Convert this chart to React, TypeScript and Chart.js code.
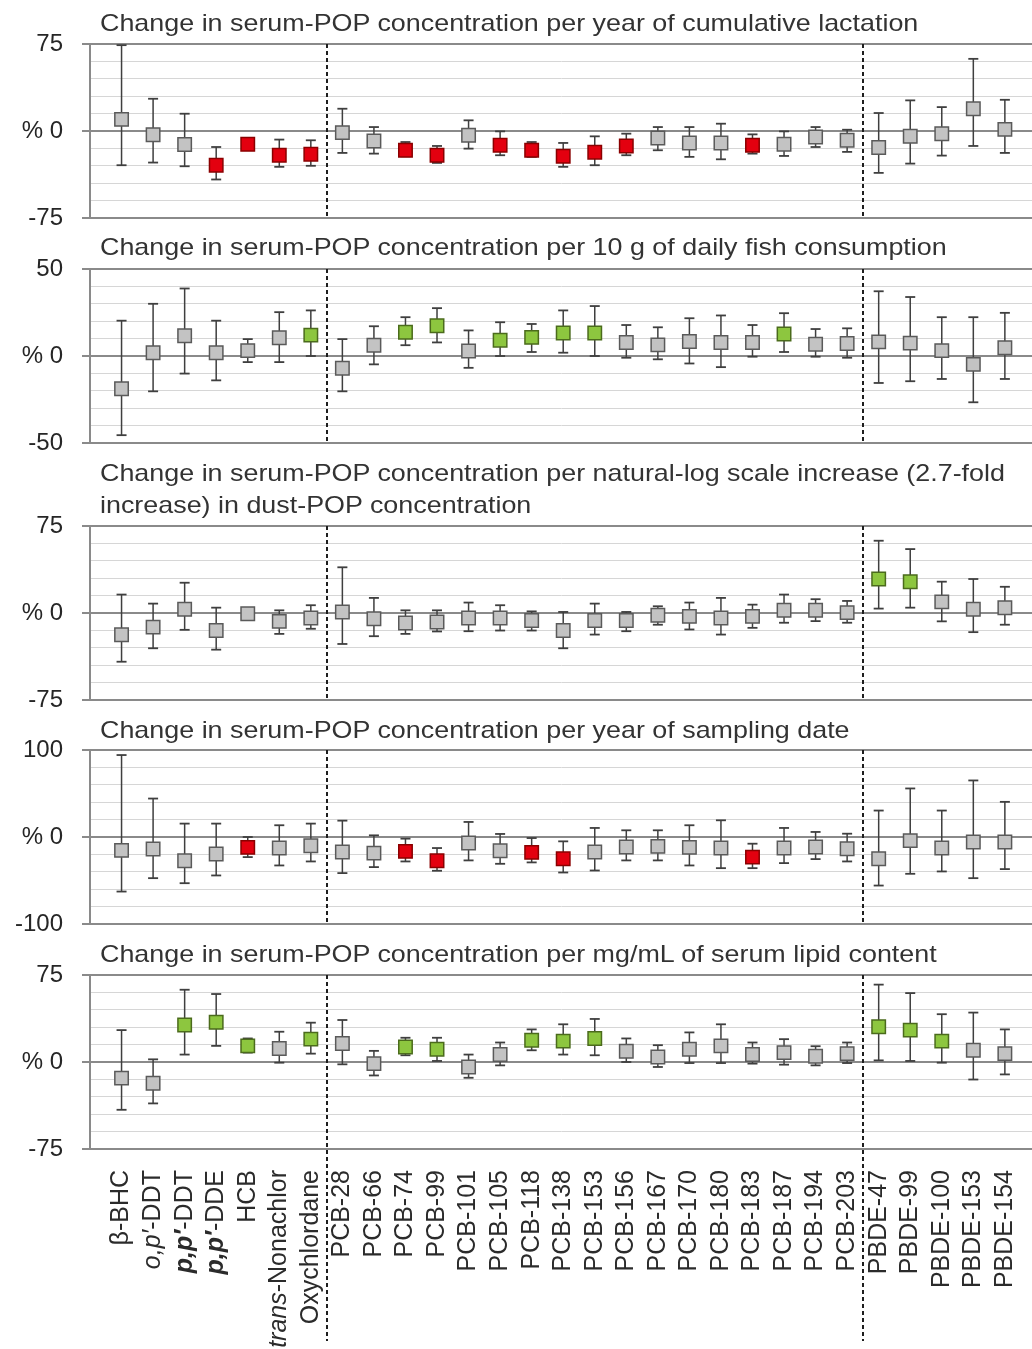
import React, { useEffect, useRef } from 'react';
import { Chart, registerables } from 'chart.js';

Chart.register(...registerables);

const FONT = '"Liberation Sans", Arial, Helvetica, sans-serif';

// ---------- categories & groups ----------
const categories = [
  'β-BHC', 'o,p′-DDT', 'p,p′-DDT', 'p,p′-DDE', 'HCB', 'trans-Nonachlor', 'Oxychlordane',
  'PCB-28', 'PCB-66', 'PCB-74', 'PCB-99', 'PCB-101', 'PCB-105', 'PCB-118', 'PCB-138',
  'PCB-153', 'PCB-156', 'PCB-167', 'PCB-170', 'PCB-180', 'PCB-183', 'PCB-187', 'PCB-194',
  'PCB-203', 'PBDE-47', 'PBDE-99', 'PBDE-100', 'PBDE-153', 'PBDE-154',
];
const groupBreaks = [7.5, 24.5];

// ---------- panel titles ----------
const titleLactation = ['Change in serum-POP concentration per year of cumulative lactation'];
const titleFish = ['Change in serum-POP concentration per 10 g of daily fish consumption'];
const titleDust = [
  'Change in serum-POP concentration per natural-log scale increase (2.7-fold',
  'increase) in dust-POP concentration',
];
const titleDate = ['Change in serum-POP concentration per year of sampling date'];
const titleLipid = ['Change in serum-POP concentration per mg/mL of serum lipid content'];

// ---------- panel 1: cumulative lactation ----------
const lactEst = [10.0, -3.2, -11.7, -29.5, -11.5, -20.9, -20.0, -1.4, -8.6, -16.6, -20.9, -3.7, -12.3, -16.6, -21.8, -18.3, -12.9, -6.0, -10.3, -10.3, -12.3, -11.5, -5.2, -8.0, -14.3, -4.6, -2.3, 19.2, 1.4];
const lactLo = [-29.5, -27.2, -30.4, -41.8, -15, -30.9, -30, -18.9, -19.5, -21.8, -27.5, -15.2, -20.9, -22.3, -30.9, -29.5, -20.9, -16.6, -22.3, -24.4, -19.5, -21.5, -13.8, -18, -36.1, -28.1, -21.2, -12.9, -18.9];
const lactHi = [74, 27.8, 14.9, -13.8, -8, -7.4, -8, 19.2, 3.4, -9.5, -12.9, 9.2, -0.3, -9.5, -10.3, -4.6, -2.3, 3.4, 3.4, 6.3, -2.9, -0.3, 3.4, 1.1, 15.5, 26.4, 20.6, 62.2, 26.9];
const lactSig = 'nnnddddnnddndddddnnndnnnnnnnn'.split('');

// ---------- panel 2: fish consumption ----------
const fishEst = [-18.8, 1.9, 11.6, 1.9, 3.1, 10.5, 12.0, -7.0, 6.2, 13.6, 17.4, 2.9, 9.1, 10.7, 13.2, 13.2, 7.8, 6.4, 8.3, 7.8, 7.8, 12.6, 6.8, 7.2, 8.1, 7.4, 3.1, -4.8, 4.7];
const fishLo = [-45.5, -20.3, -10.1, -14, -3.5, -3.5, 0, -20.3, -4.8, 6.2, 7.8, -6.8, 0, 2.3, 1.9, 0, -1, -1.9, -4.3, -6.4, -0.4, 2.3, -0.4, -1, -15.5, -14.5, -13.2, -26.6, -13.2];
const fishHi = [20.3, 30, 38.8, 20.3, 9.7, 25.2, 26.2, 9.7, 17.1, 22.3, 27.5, 14.7, 19.4, 18.4, 26.2, 28.7, 17.8, 16.5, 21.7, 23.3, 17.8, 24.6, 15.5, 15.9, 37.2, 33.9, 22.3, 22.3, 24.8];
const fishSig = 'nnnnnnunnuunuuuunnnnnunnnnnnn'.split('');

// ---------- panel 3: dust concentration ----------
const dustEst = [-18.8, -12.2, 3.2, -15.1, -0.6, -7.2, -4.3, 0.9, -4.9, -8.7, -7.8, -4.3, -4.3, -6.4, -15.1, -6.4, -6.4, -2.0, -2.9, -4.3, -2.9, 2.3, 2.3, 0.3, 29.3, 27.0, 9.6, 3.2, 4.6];
const dustLo = [-42, -30.4, -14.5, -31.6, -4.9, -18, -13.6, -26.7, -20, -18, -15.9, -15.7, -15.1, -15.1, -30.4, -18.6, -15.7, -10.1, -14.2, -18.6, -12.8, -8.4, -7, -8.4, 3.8, 4.6, -7.2, -16.5, -10.1];
const dustHi = [15.9, 8.1, 26.1, 4.6, 1.7, 2.3, 6.7, 39.4, 13, 2.3, 2.3, 9, 6.7, 1.4, 0.9, 8.1, 0.9, 5.8, 9, 13, 7.2, 15.9, 11.9, 10.4, 62.3, 55.1, 27, 29.3, 22.6];
const dustSig = 'nnnnnnnnnnnnnnnnnnnnnnnnuunnn'.split('');

// ---------- panel 4: sampling date ----------
const dateEst = [-15.4, -13.8, -27.3, -19.6, -11.9, -12.7, -10.0, -17.3, -18.5, -16.5, -27.3, -6.9, -15.8, -17.7, -25.0, -17.3, -11.5, -10.8, -11.9, -12.7, -23.1, -12.7, -11.5, -13.5, -25.0, -4.2, -12.7, -5.8, -5.8];
const dateLo = [-62.7, -47.3, -53.1, -44.2, -23.1, -32.7, -28.1, -41.5, -34.6, -28.1, -38.8, -26.9, -30.8, -29.2, -40.8, -38.5, -26.9, -26.9, -32.7, -35.8, -35.8, -30, -25.4, -28.1, -55.8, -42.3, -39.6, -47.3, -36.9];
const dateHi = [94.2, 44.2, 15.4, 15.4, 0, 13.5, 15.4, 18.8, 1.9, -1.9, -12.7, 17.3, 3.5, -1.2, -5, 10.4, 7.7, 7.7, 13.5, 19.2, -7.7, 10.4, 5.8, 3.8, 30.4, 55.8, 30.4, 65, 40.4];
const dateSig = 'nnnndnnnnddnnddnnnnndnnnnnnnn'.split('');

// ---------- panel 5: serum lipid content ----------
const lipidEst = [-13.9, -18.3, 31.9, 34.2, 13.9, 11.6, 19.7, 15.9, -1.4, 13.0, 11.0, -4.3, 6.4, 18.8, 18.0, 20.3, 9.3, 4.3, 11.0, 13.9, 6.4, 8.1, 4.9, 7.2, 30.4, 27.5, 18.0, 10.1, 7.2];
const lipidLo = [-41.2, -35.7, 6.4, 13.9, 8.1, -0.6, 7.2, -2, -11.6, 5.8, 0.9, -13.6, -2.9, 10.1, 6.4, 5.8, 0, -4.3, -0.9, -0.9, -1.4, -2.3, -2.9, -0.9, 1.4, 0.9, -0.6, -15.1, -10.7];
const lipidHi = [27.5, 2.3, 62.3, 58.6, 20.3, 26.1, 33.9, 36.2, 9.6, 20.9, 20.9, 6.4, 16.8, 28.1, 32.5, 37.1, 20.3, 14.5, 25.5, 32.5, 16.8, 19.7, 13.6, 16.8, 66.7, 59.4, 41.2, 42.6, 28.1];
const lipidSig = 'nnuuununnuunnuuunnnnnnnnuuunn'.split('');

// ---------- axis ranges ----------
const yLimits = [75, 50, 75, 100, 75];
const yStepSizes = [15, 10, 15, 20, 15];
const xMin = 0;
const xMax = 29.86;

// ---------- styles ----------
const FILL = { n: '#c3c3c3', d: '#e3000f', u: '#8dc63f' } as Record<string, string>;
const EDGE = { n: '#5a5a5a', d: '#8a0000', u: '#4b6b1c' } as Record<string, string>;
const BAR = '#3f3f3f';

const PANEL_LAYOUT = [
  { plotTop: 44, titleTop: 7 },
  { plotTop: 269, titleTop: 231 },
  { plotTop: 526, titleTop: 457 },
  { plotTop: 750, titleTop: 714 },
  { plotTop: 975, titleTop: 938 },
];
const PLOT_H = 174;
const PAD = 20;
const LABEL_SPACE = 200;

function labelParts(name: string): [string, string][] {
  if (name.startsWith('o,p′')) return [['o,p′', 'i'], [name.slice(4), 'n']];
  if (name.startsWith('p,p′')) return [['p,p′', 'bi'], [name.slice(4), 'n']];
  if (name.startsWith('trans')) return [['trans', 'i'], [name.slice(5), 'n']];
  return [[name, 'n']];
}

const separatorPlugin = {
  id: 'separators',
  beforeDatasetsDraw(chart: any, _args: any, opts: any) {
    const { ctx, chartArea, scales } = chart;
    const x = scales.x;
    ctx.save();
    ctx.strokeStyle = '#1e1e1e';
    ctx.lineWidth = 2;
    ctx.setLineDash([4, 3]);
    groupBreaks.forEach((b) => {
      const px = Math.round(x.getPixelForValue(b));
      ctx.beginPath();
      ctx.moveTo(px, chartArea.top);
      ctx.lineTo(px, chartArea.bottom + (opts && opts.extend ? opts.extend : 0));
      ctx.stroke();
    });
    ctx.restore();
  },
};

const labelPlugin = {
  id: 'catLabels',
  afterDraw(chart: any, _args: any, opts: any) {
    const { ctx, chartArea, scales } = chart;
    const x = scales.x;
    const fontFor = (s: string) =>
      `${s === 'bi' ? 'italic bold ' : s === 'i' ? 'italic ' : ''}25px ${FONT}`;
    ctx.save();
    ctx.fillStyle = '#2b2b2b';
    ctx.textBaseline = 'middle';
    ctx.textAlign = 'left';
    categories.forEach((c, i) => {
      const parts = labelParts(c);
      let W = 0;
      parts.forEach((p) => {
        ctx.font = fontFor(p[1]);
        W += ctx.measureText(p[0]).width;
      });
      const px = x.getPixelForValue(i + 1);
      ctx.save();
      ctx.translate(px, chartArea.bottom + (opts.gap || 20));
      ctx.rotate(-Math.PI / 2);
      let cx = -W;
      parts.forEach((p) => {
        ctx.font = fontFor(p[1]);
        ctx.fillText(p[0], cx, 0);
        cx += ctx.measureText(p[0]).width;
      });
      ctx.restore();
    });
    ctx.restore();
  },
};

type PanelProps = {
  est: number[];
  lo: number[];
  hi: number[];
  sig: string[];
  yLim: number;
  step: number;
  top: number;
  last: boolean;
};

function Panel({ est, lo, hi, sig, yLim, step, top, last }: PanelProps) {
  const ref = useRef<HTMLCanvasElement>(null);
  const height = PAD + PLOT_H + (last ? LABEL_SPACE : PAD);

  useEffect(() => {
    if (!ref.current) return;
    const xs = categories.map((_, i) => i + 1);
    const points = xs.map((x, i) => ({ x, y: est[i] }));
    const caps: { x: number; y: number }[] = [];
    const bars: { x: number; y: number | null }[] = [];
    xs.forEach((x, i) => {
      caps.push({ x, y: lo[i] }, { x, y: hi[i] });
      bars.push({ x, y: lo[i] }, { x, y: hi[i] }, { x, y: null });
    });
    const isMajor = (v: number) => v === 0 || v === yLim || v === -yLim;

    const plugins: any[] = [separatorPlugin];
    if (last) plugins.push(labelPlugin);

    const chart = new Chart(ref.current, {
      type: 'scatter',
      data: {
        datasets: [
          {
            data: points,
            pointStyle: 'rect',
            pointRadius: 9.5,
            pointHoverRadius: 9.5,
            pointBackgroundColor: sig.map((s) => FILL[s]),
            pointBorderColor: sig.map((s) => EDGE[s]),
            pointBorderWidth: 1.5,
            order: 0,
          },
          {
            data: caps,
            pointStyle: 'line',
            pointRadius: 5,
            pointHoverRadius: 5,
            pointBorderColor: BAR,
            pointBorderWidth: 1.8,
            order: 1,
          },
          {
            data: bars as any,
            showLine: true,
            spanGaps: false,
            pointRadius: 0,
            pointHoverRadius: 0,
            borderColor: BAR,
            borderWidth: 1.5,
            order: 2,
          },
        ],
      },
      options: {
        animation: false,
        responsive: true,
        maintainAspectRatio: false,
        events: [],
        layout: {
          autoPadding: false,
          padding: { top: PAD, bottom: last ? LABEL_SPACE : PAD, left: 0, right: 0 },
        },
        plugins: {
          legend: { display: false },
          tooltip: { enabled: false },
          title: { display: false },
          separators: { extend: last ? 192 : 0 },
          catLabels: { gap: 21 },
        } as any,
        scales: {
          x: {
            type: 'linear',
            min: xMin,
            max: xMax,
            display: false,
            ticks: { display: false },
            afterFit: (s: any) => {
              s.paddingLeft = 0;
              s.paddingRight = 0;
              s.paddingTop = 0;
              s.paddingBottom = 0;
            },
          },
          y: {
            type: 'linear',
            min: -yLim,
            max: yLim,
            afterFit: (s: any) => {
              s.width = 90;
              s.paddingTop = 0;
              s.paddingBottom = 0;
              s.paddingLeft = 0;
              s.paddingRight = 0;
            },
            ticks: {
              stepSize: step,
              autoSkip: false,
              padding: 19,
              color: '#262626',
              font: { family: FONT, size: 24 },
              callback: (v: any) =>
                v === yLim ? String(yLim) : v === 0 ? '% 0' : v === -yLim ? String(-yLim) : '',
            },
            grid: {
              color: (c: any) => (isMajor(c.tick.value) ? '#8a8a8a' : '#d6d6d6'),
              lineWidth: (c: any) => (isMajor(c.tick.value) ? 2 : 1),
              tickLength: 8,
              tickColor: (c: any) => (isMajor(c.tick.value) ? '#8a8a8a' : 'rgba(0,0,0,0)'),
              drawTicks: true,
            },
            border: { display: true, color: '#8a8a8a', width: 2 },
          },
        },
      },
      plugins,
    });
    return () => chart.destroy();
  }, []);

  return (
    <div style={{ position: 'absolute', left: 0, top: top - PAD, width: 1032, height }}>
      <canvas ref={ref} />
    </div>
  );
}

const panels = [
  { est: lactEst, lo: lactLo, hi: lactHi, sig: lactSig, title: titleLactation },
  { est: fishEst, lo: fishLo, hi: fishHi, sig: fishSig, title: titleFish },
  { est: dustEst, lo: dustLo, hi: dustHi, sig: dustSig, title: titleDust },
  { est: dateEst, lo: dateLo, hi: dateHi, sig: dateSig, title: titleDate },
  { est: lipidEst, lo: lipidLo, hi: lipidHi, sig: lipidSig, title: titleLipid },
];

export default function App() {
  return (
    <div
      style={{
        position: 'absolute',
        left: 0,
        top: 0,
        width: 1032,
        height: 1349,
        background: '#ffffff',
        overflow: 'hidden',
        fontFamily: FONT,
      }}
    >
      {panels.map((p, i) => (
        <Panel
          key={i}
          est={p.est}
          lo={p.lo}
          hi={p.hi}
          sig={p.sig}
          yLim={yLimits[i]}
          step={yStepSizes[i]}
          top={PANEL_LAYOUT[i].plotTop}
          last={i === panels.length - 1}
        />
      ))}
      {panels.map((p, i) => (
        <div
          key={'t' + i}
          style={{
            position: 'absolute',
            left: 100,
            top: PANEL_LAYOUT[i].titleTop,
            fontSize: 24,
            lineHeight: '32px',
            color: '#333333',
            whiteSpace: 'nowrap',
            transform: 'scaleX(1.12)',
            transformOrigin: 'left top',
          }}
        >
          {p.title.map((line, j) => (
            <div key={j}>{line}</div>
          ))}
        </div>
      ))}
    </div>
  );
}
